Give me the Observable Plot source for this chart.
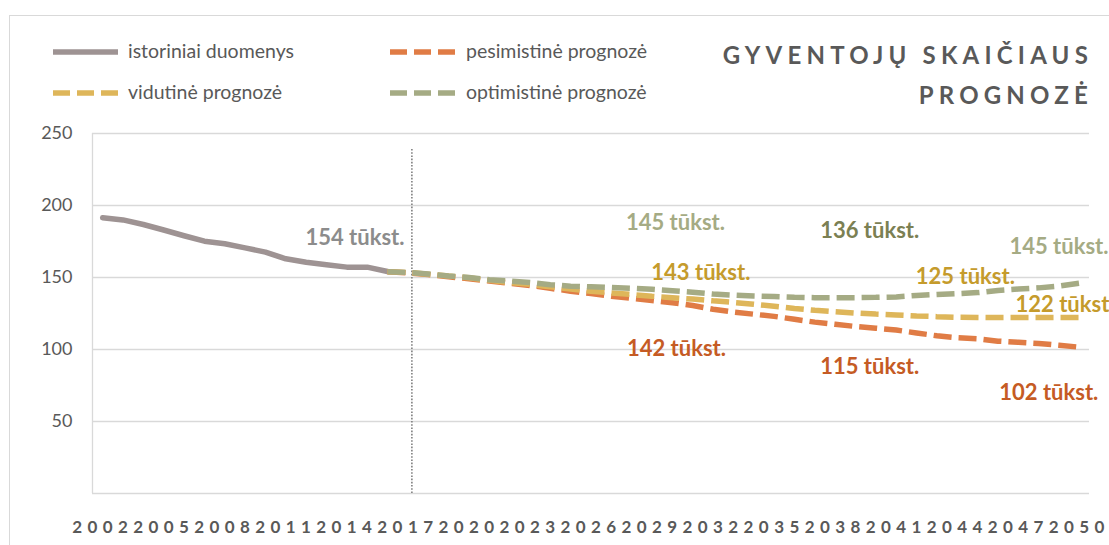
<!DOCTYPE html>
<html><head><meta charset="utf-8">
<script src="https://cdn.jsdelivr.net/npm/d3@7"></script>
<script src="https://cdn.jsdelivr.net/npm/@observablehq/plot@0.6"></script>
<style>
body{margin:0;background:#fff;font-family:Lato,"DejaVu Sans",sans-serif;}
#wrap{position:relative;width:1109px;height:545px;overflow:hidden;background:#fff;}
#border{position:absolute;left:9px;top:15px;width:1300px;height:700px;border:1.5px solid #d9d9d9;box-sizing:border-box;}
#header{position:absolute;left:0;top:0;width:1109px;height:120px;}
.leg{position:absolute;font-size:19.5px;line-height:19.5px;color:#595959;white-space:nowrap;}
.sw{position:absolute;}
.title{position:absolute;right:16px;font-size:24px;line-height:24px;font-weight:700;letter-spacing:5.2px;color:#595959;white-space:nowrap;}
#chart{position:absolute;left:0;top:120px;}
</style>
</head><body>
<div id="wrap">
  <div id="border"></div>
  <div id="header"></div>
  <div id="chart"></div>
</div>
<script>
// ---- data ----
const histYears = [2002,2003,2004,2005,2006,2007,2008,2009,2010,2011,2012,2013,2014,2015,2016];
const histValues = [191.5,190,186.8,183,179,175.2,173.4,170.6,167.6,163,160.6,158.8,157.2,157.2,154.2];
const forecastYears = [2016,2017,2018,2019,2020,2021,2022,2023,2024,2025,2026,2027,2028,2029,2030,2031,2032,2033,2034,2035,2036,2037,2038,2039,2040,2041,2042,2043,2044,2045,2046,2047,2048,2049,2050];
const pessimistic = [154,153.3,152,150.5,149.2,147.5,146,144.5,142.5,140.5,138.8,137,135.5,134,132.5,130.5,128,126,124.5,123,121,119,117.5,116,114.8,113.5,111.5,109.5,108.2,107.5,105.8,105,104.2,103,101.6];
const medium = [154,153.5,152.3,151,149.8,148,146.5,145.3,143.5,142,140.5,139.3,138.2,137,136,135,133.8,132.7,131.5,130,128.5,127.2,126.2,125.3,124.6,124,123.3,122.8,122.4,122.3,122.2,122.2,122.2,122.2,122.2];
const optimistic = [154,153.5,152.5,151,150,148.5,147.5,146.5,145,144,143.5,143,142.5,141.8,140.8,139.8,138.5,137.8,137.2,136.8,136.3,136,136,136,136.2,136.5,137.5,138.2,138.8,139.5,141,142,142.8,144,146];
const seriesNames = ["istoriniai duomenys","pesimistinė prognozė","vidutinė prognozė","optimistinė prognozė"];
const xTicks = [2002,2005,2008,2011,2014,2017,2020,2023,2026,2029,2032,2035,2038,2041,2044,2047,2050];
const yTicks = [50,100,150,200,250];
const gridValues = [0,50,100,150,200,250];
const dividerYear = 2017;
const labelTexts = ["154 tūkst.","145 tūkst.","143 tūkst.","142 tūkst.","136 tūkst.","125 tūkst.","115 tūkst.","145 tūkst.","122 tūkst.","102 tūkst."];
const labelYears = [2014.4,2030.15,2031.4,2030.2,2039.7,2044.4,2039.7,2049,2049.3,2048.5];
const labelValues = [177.8,188.2,153.5,100.7,182.6,150.7,88.2,171.5,130.6,70.1];
const titleLines = ["GYVENTOJŲ SKAIČIAUS","PROGNOZĖ"];

// ---- styles ----
const lineColors = ["#9e9393","#e07c45","#deb65a","#a5ab84"];
const labelColors = ["#8c8c8c","#a5ab84","#c59b2c","#c55b24","#7b8053","#c59b2c","#c55b24","#a5ab84","#c59b2c","#c55b24"];
const dash = "18,7";

// ---- header: legend + title ----
const header = document.getElementById("header");
const legPos = [[53,128,52],[390,466,52],[53,128,93],[390,466,93]];
seriesNames.forEach((name,i)=>{
  const [sx,tx,cy] = legPos[i];
  const sw = document.createElementNS("http://www.w3.org/2000/svg","svg");
  sw.setAttribute("class","sw");
  sw.setAttribute("width",66); sw.setAttribute("height",10);
  sw.style.left = sx+"px"; sw.style.top = (cy-5)+"px";
  const ln = document.createElementNS("http://www.w3.org/2000/svg","line");
  ln.setAttribute("x1",0); ln.setAttribute("x2",65); ln.setAttribute("y1",5); ln.setAttribute("y2",5);
  ln.setAttribute("stroke",lineColors[i]); ln.setAttribute("stroke-width",5.5);
  if(i>0) ln.setAttribute("stroke-dasharray","17,7");
  sw.appendChild(ln);
  header.appendChild(sw);
  const t = document.createElement("div");
  t.className="leg"; t.textContent=name;
  t.style.left = tx+"px"; t.style.top = (cy+6-17.3)+"px";
  header.appendChild(t);
});
titleLines.forEach((s,i)=>{
  const t=document.createElement("div");
  t.className="title"; t.textContent=s;
  t.style.top = (43 + i*40)+"px";
  header.appendChild(t);
});

// ---- chart ----
const hist = histYears.map((y,i)=>({year:y,value:histValues[i]}));
const mk = arr => forecastYears.map((y,i)=>({year:y,value:arr[i]}));
const labels = labelTexts.map((t,i)=>({text:t,year:labelYears[i],value:labelValues[i],color:labelColors[i]}));

const chart = Plot.plot({
  width:1109, height:425,
  marginLeft:92, marginRight:20, marginTop:13, marginBottom:52,
  style:{fontFamily:"Lato, sans-serif", background:"transparent", overflow:"visible"},
  x:{type:"linear", domain:[2001.5,2050.5]},
  y:{domain:[0,250]},
  marks:[
    Plot.ruleY(gridValues,{stroke:"#d9d9d9",strokeWidth:1.3}),
    Plot.ruleX([2001.5],{stroke:"#d9d9d9",strokeWidth:1.3}),
    Plot.ruleX([dividerYear],{y1:0,y2:240,dx:4,stroke:"#7f7f7f",strokeWidth:1.6,strokeDasharray:"1.6,1.6"}),
    Plot.axisY(yTicks,{tickSize:0,tickPadding:20,fontSize:18,fill:"#595959",label:null}),
    Plot.axisX(xTicks,{tickSize:0,tickPadding:27,fontSize:17,fontWeight:700,fill:"#595959",label:null,tickFormat:d=>String(d)}),
    Plot.line(hist,{x:"year",y:"value",stroke:lineColors[0],strokeWidth:5.5}),
    Plot.line(mk(pessimistic),{x:"year",y:"value",stroke:lineColors[1],strokeWidth:5.5,strokeDasharray:dash,strokeLinecap:"butt",strokeLinejoin:"miter"}),
    Plot.line(mk(medium),{x:"year",y:"value",stroke:lineColors[2],strokeWidth:5.5,strokeDasharray:dash,strokeLinecap:"butt",strokeLinejoin:"miter"}),
    Plot.line(mk(optimistic),{x:"year",y:"value",stroke:lineColors[3],strokeWidth:5.5,strokeDasharray:dash,strokeLinecap:"butt",strokeLinejoin:"miter"}),
    Plot.text(labels,{x:"year",y:"value",text:"text",fill:"color",fontSize:22,fontWeight:700})
  ]
});
document.getElementById("chart").appendChild(chart);
d3.select(chart).selectAll('g[aria-label="x-axis tick label"] text').style("letter-spacing","5.4px");
</script>
</body></html>
